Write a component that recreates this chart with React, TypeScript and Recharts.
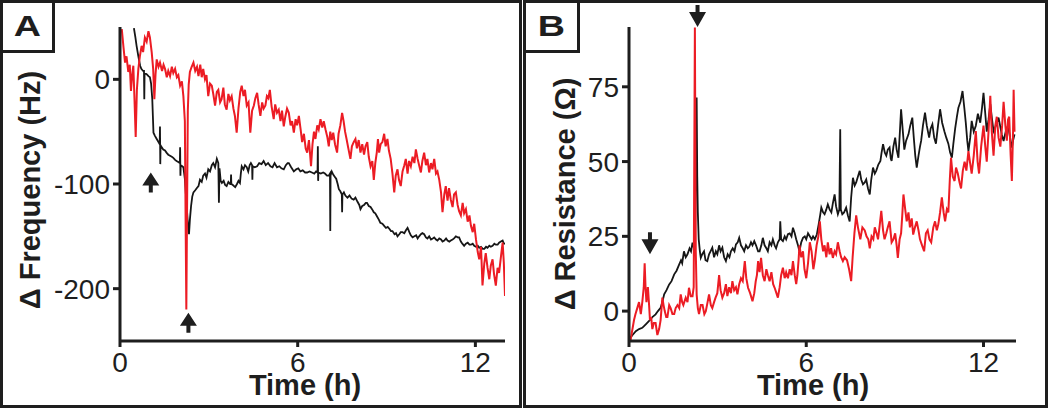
import { LineChart, Line, XAxis, YAxis, ReferenceDot, Label } from 'recharts';

// ---- panel A: frequency shift (Hz) vs time (h) ----
const redFreqTime = [
    0.06, 0.12, 0.17, 0.22, 0.28, 0.33, 0.37, 0.41, 0.45, 0.49, 0.53, 0.57, 0.62, 0.67, 0.73, 0.78, 0.84, 0.9, 0.96, 1.01,
    1.07, 1.12, 1.16, 1.2, 1.24, 1.3, 1.35, 1.42, 1.47, 1.52, 1.58, 1.63, 1.69, 1.75, 1.8, 1.86, 1.92, 1.97, 2.03, 2.09,
    2.14, 2.19, 2.22, 2.24, 2.26, 2.29, 2.32, 2.36, 2.42, 2.48, 2.54, 2.6, 2.65, 2.71, 2.76, 2.81, 2.87, 2.92, 2.98, 3.04,
    3.1, 3.15, 3.21, 3.27, 3.32, 3.38, 3.43, 3.49, 3.54, 3.6, 3.66, 3.71, 3.77, 3.83, 3.88, 3.94, 4.0, 4.06, 4.11, 4.17,
    4.22, 4.28, 4.34, 4.4, 4.46, 4.52, 4.57, 4.63, 4.68, 4.74, 4.8, 4.85, 4.91, 4.96, 5.01, 5.06, 5.12, 5.19, 5.24, 5.3,
    5.36, 5.42, 5.47, 5.53, 5.58, 5.64, 5.7, 5.76, 5.81, 5.87, 5.93, 5.98, 6.04, 6.1, 6.15, 6.21, 6.27, 6.32, 6.38, 6.42,
    6.45, 6.5, 6.55, 6.6, 6.66, 6.71, 6.77, 6.83, 6.88, 6.94, 7.0, 7.05, 7.1, 7.15, 7.2, 7.26, 7.33, 7.38, 7.44, 7.5,
    7.55, 7.6, 7.65, 7.71, 7.78, 7.83, 7.89, 7.95, 8.0, 8.06, 8.12, 8.18, 8.24, 8.29, 8.35, 8.4, 8.46, 8.52, 8.57, 8.62,
    8.67, 8.71, 8.75, 8.8, 8.86, 8.92, 8.97, 9.03, 9.08, 9.14, 9.2, 9.26, 9.31, 9.37, 9.42, 9.48, 9.54, 9.6, 9.65, 9.71,
    9.76, 9.82, 9.88, 9.94, 9.99, 10.05, 10.1, 10.16, 10.21, 10.27, 10.33, 10.38, 10.44, 10.5, 10.55, 10.61, 10.67, 10.72, 10.78, 10.84,
    10.89, 10.95, 11.0, 11.06, 11.11, 11.17, 11.23, 11.28, 11.34, 11.4, 11.45, 11.51, 11.57, 11.62, 11.68, 11.74, 11.8, 11.85, 11.91, 11.96,
    12.02, 12.08, 12.13, 12.19, 12.24, 12.3, 12.35, 12.41, 12.47, 12.52, 12.58, 12.63, 12.69, 12.75, 12.8, 12.86, 12.92, 12.96, 13.0,
];
const redFreq = [
    48, 30, 16, 22, 7, 14, -11, 4, 13, -20, -55, -10, 10, 22, 32, 26, 40, 36, 46, 40,
    26, 10, -19, 5, 19, 12, 16, 8, 14, 10, 2, 8, 3, 12, 6, 10, 2, 4, -6, -2,
    -16, -40, -150, -220, -140, -30, -5, 7, 12, 16, 8, 12, 3, 14, 2, 10, 0, 4, -16, -4,
    -6, -14, -25, -12, -10, -22, -19, -8, -24, -29, -14, -20, -16, -28, -35, -51, -28, -12, -6, -16,
    -10, -25, -22, -51, -30, -25, -18, -13, -24, -35, -22, -28, -25, -16, -18, -10, -26, -38, -24, -32,
    -29, -40, -30, -45, -36, -28, -32, -44, -40, -51, -38, -44, -35, -48, -60, -52, -66, -70, -58, -72,
    -83, -62, -50, -57, -44, -48, -38, -46, -40, -48, -55, -64, -50, -58, -51, -62, -70, -52, -44, -32,
    -40, -50, -57, -66, -76, -64, -60, -57, -66, -58, -70, -62, -72, -64, -60, -74, -83, -78, -96, -80,
    -70, -57, -70, -62, -60, -52, -64, -57, -68, -76, -90, -108, -92, -86, -96, -102, -88, -82, -76, -90,
    -78, -83, -74, -80, -67, -76, -82, -89, -78, -70, -82, -76, -89, -80, -86, -76, -90, -88, -96, -108,
    -127, -110, -102, -116, -104, -115, -122, -110, -108, -120, -126, -130, -118, -128, -124, -136, -130, -140, -146, -138,
    -153, -165, -172, -160, -197, -176, -166, -180, -191, -178, -172, -186, -197, -180, -185, -170, -156, -175, -207,
];

const blackFreqTime = [
    0.47, 0.52, 0.56, 0.62, 0.68, 0.72, 0.78, 0.81, 0.82, 0.83, 0.9, 0.96, 1.01, 1.05, 1.09, 1.11, 1.13, 1.18, 1.24, 1.3,
    1.34, 1.35, 1.36, 1.37, 1.41, 1.46, 1.52, 1.57, 1.63, 1.69, 1.75, 1.8, 1.86, 1.91, 1.97, 2.02, 2.03, 2.04, 2.05, 2.1,
    2.14, 2.19, 2.25, 2.3, 2.33, 2.36, 2.4, 2.44, 2.48, 2.54, 2.59, 2.65, 2.7, 2.76, 2.81, 2.87, 2.92, 2.98, 3.04, 3.1,
    3.15, 3.21, 3.27, 3.32, 3.34, 3.36, 3.4, 3.44, 3.5, 3.55, 3.6, 3.66, 3.72, 3.74, 3.75, 3.76, 3.81, 3.89, 3.95, 4.0,
    4.05, 4.08, 4.11, 4.17, 4.22, 4.28, 4.33, 4.38, 4.42, 4.46, 4.47, 4.48, 4.55, 4.63, 4.7, 4.78, 4.85, 4.92, 5.0, 5.08,
    5.15, 5.22, 5.3, 5.38, 5.45, 5.53, 5.6, 5.66, 5.7, 5.78, 5.87, 5.95, 6.02, 6.09, 6.17, 6.25, 6.32, 6.4, 6.48, 6.56,
    6.62, 6.67, 6.68, 6.69, 6.7, 6.78, 6.86, 6.92, 6.99, 7.05, 7.09, 7.1, 7.11, 7.15, 7.2, 7.25, 7.3, 7.35, 7.39, 7.44,
    7.49, 7.5, 7.51, 7.56, 7.61, 7.68, 7.75, 7.82, 7.89, 7.95, 8.02, 8.08, 8.12, 8.18, 8.24, 8.3, 8.34, 8.4, 8.46, 8.51,
    8.57, 8.62, 8.68, 8.74, 8.79, 8.86, 8.92, 8.98, 9.04, 9.1, 9.15, 9.2, 9.27, 9.32, 9.37, 9.43, 9.48, 9.54, 9.6, 9.66,
    9.71, 9.77, 9.82, 9.88, 9.94, 10.0, 10.05, 10.1, 10.16, 10.21, 10.27, 10.33, 10.38, 10.44, 10.5, 10.56, 10.61, 10.67, 10.72, 10.78,
    10.84, 10.89, 10.95, 11.01, 11.06, 11.12, 11.17, 11.23, 11.28, 11.34, 11.4, 11.45, 11.51, 11.56, 11.62, 11.68, 11.74, 11.8, 11.85, 11.91,
    11.96, 12.02, 12.08, 12.13, 12.19, 12.25, 12.3, 12.36, 12.41, 12.47, 12.52, 12.58, 12.64, 12.69, 12.75, 12.8, 12.86, 12.92, 12.96, 13.0,
];
const blackFreq = [
    49, 40, 32, 22, 13, 10, 8, 8, -19, 6, 5, 3, 2, -4, -19, -35, -51, -54, -57, -60,
    -62, -45, -81, -63, -65, -67, -68, -70, -72, -73, -74, -75, -77, -78, -79, -80, -65, -92, -82, -83,
    -84, -95, -121, -140, -148, -134, -121, -112, -108, -106, -104, -102, -96, -98, -92, -90, -94, -86, -88, -82,
    -80, -84, -76, -80, -118, -85, -97, -99, -97, -101, -102, -98, -100, -100, -91, -100, -101, -103, -100, -97,
    -99, -90, -83, -86, -82, -84, -88, -82, -80, -82, -96, -83, -84, -83, -80, -81, -78, -82, -80, -83,
    -84, -80, -84, -83, -85, -86, -82, -80, -80, -84, -88, -86, -85, -88, -87, -89, -89, -88, -89, -90,
    -88, -89, -64, -97, -89, -90, -89, -90, -92, -92, -90, -145, -92, -88, -91, -93, -95, -100, -105, -107,
    -110, -127, -110, -108, -111, -113, -111, -114, -115, -113, -117, -120, -124, -121, -120, -118, -118, -121, -122, -124,
    -127, -128, -131, -134, -137, -138, -140, -142, -141, -143, -145, -145, -148, -147, -150, -148, -146, -146, -147, -144,
    -142, -146, -149, -151, -150, -149, -152, -150, -148, -147, -148, -151, -152, -150, -153, -152, -151, -153, -154, -152,
    -153, -155, -154, -152, -154, -155, -154, -153, -152, -150, -151, -151, -155, -157, -159, -157, -156, -158, -158, -157,
    -159, -160, -159, -161, -160, -162, -162, -160, -161, -159, -160, -159, -157, -158, -158, -156, -155, -154, -157, -157,
];

// ---- panel B: resistance shift (ohm) vs time (h) ----
const redResTime = [
    0.05, 0.1, 0.17, 0.22, 0.28, 0.34, 0.4, 0.45, 0.5, 0.53, 0.56, 0.59, 0.64, 0.68, 0.71, 0.75, 0.79, 0.84, 0.9, 0.96,
    1.02, 1.07, 1.13, 1.17, 1.21, 1.26, 1.3, 1.36, 1.41, 1.47, 1.53, 1.58, 1.64, 1.7, 1.75, 1.8, 1.84, 1.92, 1.98, 2.03,
    2.09, 2.15, 2.19, 2.23, 2.26, 2.29, 2.33, 2.37, 2.43, 2.49, 2.55, 2.6, 2.66, 2.71, 2.77, 2.82, 2.88, 2.93, 2.99, 3.05,
    3.1, 3.16, 3.22, 3.28, 3.33, 3.39, 3.45, 3.5, 3.56, 3.62, 3.67, 3.73, 3.79, 3.85, 3.92, 3.97, 4.03, 4.1, 4.18, 4.24,
    4.29, 4.33, 4.37, 4.42, 4.47, 4.53, 4.59, 4.65, 4.7, 4.76, 4.82, 4.88, 4.93, 4.99, 5.04, 5.1, 5.15, 5.21, 5.27, 5.32,
    5.38, 5.44, 5.5, 5.55, 5.61, 5.66, 5.7, 5.74, 5.77, 5.83, 5.89, 5.94, 6.0, 6.06, 6.12, 6.18, 6.24, 6.29, 6.35, 6.41,
    6.46, 6.51, 6.57, 6.62, 6.68, 6.73, 6.79, 6.84, 6.9, 6.96, 7.01, 7.07, 7.13, 7.18, 7.24, 7.3, 7.38, 7.45, 7.52, 7.57,
    7.63, 7.69, 7.75, 7.83, 7.9, 7.98, 8.04, 8.1, 8.15, 8.21, 8.27, 8.32, 8.38, 8.43, 8.49, 8.54, 8.6, 8.65, 8.71, 8.76,
    8.82, 8.86, 8.89, 8.95, 9.01, 9.06, 9.1, 9.16, 9.21, 9.25, 9.29, 9.35, 9.4, 9.46, 9.51, 9.57, 9.62, 9.68, 9.74, 9.8,
    9.85, 9.92, 9.99, 10.05, 10.11, 10.17, 10.23, 10.3, 10.36, 10.42, 10.47, 10.53, 10.59, 10.65, 10.7, 10.76, 10.81, 10.86, 10.9, 10.96,
    11.02, 11.07, 11.13, 11.19, 11.24, 11.3, 11.36, 11.42, 11.49, 11.54, 11.6, 11.67, 11.74, 11.8, 11.85, 11.92, 12.0, 12.06, 12.11, 12.17,
    12.23, 12.28, 12.34, 12.4, 12.45, 12.51, 12.57, 12.63, 12.68, 12.74, 12.79, 12.83, 12.87, 12.92, 12.96, 13.0, 13.02, 13.05,
];
const redRes = [
    -10, -7, -3, -1, 1, 3, -1, 3, 8, 16, 8, 3, 8, 2, -3, -2, -6, -4, -4, -8,
    -6, -3, 4.5, 2, 0, -2, -2, 2, 1, -1, -1, 1, 2, 1, 5.6, 3, 2, 4.5, 3, 7.8,
    5, 5, 8, 94.8, 20, 5.6, 1, -1, 2, 2, -1, 0, 3, 5.6, 2, 1, 3, 4.5, 6, 12,
    7, 4.5, 6, 9, 5, 8, 6, 10, 7, 8, 5.6, 9, 11, 10, 16.7, 11, 7.8, 6, 3.3, 6,
    10, 12, 16.7, 13, 17.8, 12, 10, 14, 12, 10, 13, 9, 7.8, 6, 4.5, 8, 12, 14.5, 11, 13,
    11, 14, 12, 16.7, 12, 9, 12, 17, 22, 18, 20, 14, 11, 16, 23, 20, 14, 17, 22, 25,
    30, 24, 20, 22, 18, 23, 19, 21, 17.8, 20, 19, 23, 20, 18, 16.7, 18, 17, 14, 10, 18,
    26, 32, 28, 24, 28, 27, 25, 24, 21, 25, 24, 28, 26, 24, 29, 33.5, 27, 24, 26, 28,
    30, 26, 23, 24, 26, 22, 17.8, 24, 26, 32, 39, 34, 30, 33, 28, 31, 25.6, 28, 30, 27,
    24, 22, 20, 26, 27, 24, 23, 28, 30, 27, 29, 33, 38, 33, 30, 34, 33, 44, 51.3, 45,
    43.5, 48, 46, 43, 41, 47, 50, 47, 53.5, 50, 46, 52, 60.2, 50, 46, 55, 62, 55, 50, 60,
    72, 60, 52, 62, 65, 58, 55, 62, 70, 62, 57, 64, 65, 52, 43.5, 60, 74, 60,
];

const blackResTime = [
    0.05, 0.12, 0.23, 0.34, 0.45, 0.56, 0.68, 0.79, 0.9, 0.98, 1.07, 1.13, 1.19, 1.27, 1.36, 1.44, 1.53, 1.61, 1.7, 1.76,
    1.8, 1.86, 1.92, 1.98, 2.05, 2.1, 2.15, 2.2, 2.23, 2.27, 2.29, 2.31, 2.33, 2.36, 2.4, 2.43, 2.48, 2.54, 2.59, 2.65,
    2.71, 2.76, 2.82, 2.88, 2.94, 2.99, 3.05, 3.1, 3.16, 3.22, 3.28, 3.34, 3.4, 3.45, 3.51, 3.57, 3.62, 3.68, 3.73, 3.79,
    3.85, 3.9, 3.96, 4.02, 4.07, 4.13, 4.18, 4.24, 4.3, 4.37, 4.42, 4.48, 4.53, 4.59, 4.65, 4.7, 4.76, 4.82, 4.87, 4.93,
    4.98, 5.04, 5.1, 5.12, 5.15, 5.21, 5.27, 5.32, 5.38, 5.44, 5.5, 5.55, 5.61, 5.66, 5.72, 5.77, 5.83, 5.89, 5.95, 6.0,
    6.06, 6.12, 6.18, 6.23, 6.29, 6.36, 6.42, 6.47, 6.51, 6.57, 6.62, 6.68, 6.73, 6.79, 6.85, 6.9, 6.96, 7.01, 7.07, 7.12,
    7.15, 7.17, 7.22, 7.28, 7.35, 7.41, 7.47, 7.52, 7.58, 7.64, 7.69, 7.75, 7.81, 7.86, 7.92, 7.98, 8.03, 8.09, 8.15, 8.2,
    8.26, 8.32, 8.37, 8.44, 8.51, 8.55, 8.6, 8.66, 8.71, 8.76, 8.82, 8.86, 8.89, 8.95, 9.01, 9.06, 9.12, 9.17, 9.21, 9.27,
    9.32, 9.38, 9.46, 9.52, 9.59, 9.64, 9.69, 9.74, 9.8, 9.85, 9.89, 9.95, 10.02, 10.08, 10.16, 10.21, 10.27, 10.33, 10.39, 10.46,
    10.53, 10.6, 10.68, 10.74, 10.81, 10.87, 10.93, 10.98, 11.04, 11.1, 11.15, 11.22, 11.29, 11.35, 11.4, 11.45, 11.49, 11.55, 11.6, 11.67,
    11.74, 11.81, 11.89, 11.95, 12.0, 12.06, 12.11, 12.17, 12.23, 12.29, 12.34, 12.42, 12.51, 12.58, 12.62, 12.68, 12.75, 12.83, 12.9, 12.96,
    13.0, 13.05,
];
const blackRes = [
    -8.9, -8, -6.7, -6, -5.6, -4.5, -3.3, -2, -1.1, 0, 1.1, 3, 5.6, 7, 8.9, 10, 12.3, 13.5, 15.6, 17,
    16, 20, 18, 19, 21, 20, 22.9, 21, 21, 50, 71.4, 45, 33, 24, 20, 17.8, 19, 20, 17, 16.7,
    19, 20, 21.2, 18, 20, 19, 22, 20, 21.2, 18, 16.7, 19, 18, 20, 21, 20, 22.3, 23, 24.5, 22,
    21, 20, 22, 21, 21.5, 23, 22, 23.4, 22, 20, 20, 22, 24.5, 22, 21, 20, 23, 22, 24, 22,
    21, 23, 24, 30, 24, 23.4, 25, 24, 25.7, 26, 25, 27.9, 26, 24, 22, 20, 23, 24.5, 25, 24,
    26, 25, 24, 25, 24, 25.7, 29, 32, 34.6, 33, 32.4, 34, 35.7, 34, 33, 36, 39, 35, 32.4, 34,
    60.8, 34, 32.4, 33, 34.6, 32, 30, 38, 44.6, 42, 43, 45, 46.9, 44, 42.4, 43, 44, 41, 39, 44,
    48, 46, 47, 49, 50.2, 53, 55.8, 53, 52, 54, 54.7, 51, 50.2, 55, 58, 54, 51.3, 60, 67.5, 60,
    54, 57, 59.1, 62, 64.7, 58, 52, 48, 52, 55, 57, 62, 66.4, 62, 58, 61, 62.5, 58, 56, 62,
    67.5, 63, 60, 58, 56, 53, 51.3, 56, 61, 65, 68, 70, 73.6, 68, 63, 57, 53.5, 58, 63.6, 60,
    62, 66, 63, 68, 73, 66, 60, 64, 69.2, 64, 60.2, 62, 64.7, 61, 59, 56.9, 60, 62, 58, 54.7,
    57, 59.1,
];

// ---- axes and annotations ----
const timeTicks = [0, 6, 12];
const freqTicks = [-200, -100, 0];
const resTicks = [0, 25, 50, 75];
const freqArrowTimes = [1.04, 2.31];
const freqArrowValues = [-89, -223];
const resArrowTimes = [0.71, 2.32];
const resArrowValues = [19, 95];

const RED = '#ec1c24';
const BLACK = '#161616';
const INK = '#1e1e1e';
const FONT = '"Liberation Sans", Arial, Helvetica, sans-serif';

const zip = (ts: number[], vs: number[]) => ts.map((t, i) => ({ t, v: vs[i] }));

const redFreqData = zip(redFreqTime, redFreq);
const blackFreqData = zip(blackFreqTime, blackFreq);
const redResData = zip(redResTime, redRes);
const blackResData = zip(blackResTime, blackRes);

function UpArrow(props: any) {
    const { cx, cy } = props;
    const d = `M${cx} ${cy} L${cx + 8.5} ${cy + 13} L${cx + 2} ${cy + 13} L${cx + 2} ${cy + 20} L${cx - 2} ${cy + 20} L${cx - 2} ${cy + 13} L${cx - 8.5} ${cy + 13} Z`;
    return <path d={d} fill={INK} />;
}

function DownArrow(props: any) {
    const { cx, cy } = props;
    const d = `M${cx} ${cy} L${cx + 8.5} ${cy - 15} L${cx + 2} ${cy - 15} L${cx + 2} ${cy - 22} L${cx - 2} ${cy - 22} L${cx - 2} ${cy - 15} L${cx - 8.5} ${cy - 15} Z`;
    return <path d={d} fill={INK} />;
}

const tickStyle = { fontSize: 28, fill: INK, fontFamily: FONT };
const axisLineStyle = { stroke: INK, strokeWidth: 3 };
const tickLineStyle = { stroke: INK, strokeWidth: 3 };

function xTitle(cx: number) {
    return (
        <Label
            content={() => (
                <text x={cx} y={392} textAnchor="middle" fontSize={29} fontWeight="bold" fontFamily={FONT} fill={INK}>
                    Time (h)
                </text>
            )}
        />
    );
}

function yTitle(text: string, bx: number, cy: number) {
    return (
        <Label
            content={() => (
                <text
                    x={bx}
                    y={cy}
                    transform={`rotate(-90 ${bx} ${cy})`}
                    textAnchor="middle"
                    fontSize={29}
                    fontWeight="bold"
                    fontFamily={FONT}
                    fill={INK}
                >
                    {text}
                </text>
            )}
        />
    );
}

function LetterBox({ letter, left, width }: { letter: string; left: number; width: number }) {
    return (
        <div
            style={{
                position: 'absolute',
                left,
                top: 0,
                width: width - 6,
                height: 47,
                border: `3px solid ${INK}`,
                background: '#fff',
                display: 'flex',
                alignItems: 'center',
                justifyContent: 'center',
                fontFamily: FONT,
                fontWeight: 'bold',
                fontSize: 29,
                color: INK,
            }}
        >
            <span style={{ display: 'inline-block', transform: 'scaleX(1.3)' }}>{letter}</span>
        </div>
    );
}

const panelBox = (left: number, width: number): React.CSSProperties => ({
    position: 'absolute',
    left,
    top: 0,
    width: width - 6,
    height: 402,
    border: `3px solid ${INK}`,
    background: '#fff',
});

export default function App() {
    return (
        <div style={{ position: 'absolute', left: 0, top: 0, width: 1050, height: 409, background: '#fff', fontFamily: FONT }}>
            <div style={panelBox(0, 522)}>
                <LineChart width={516} height={402} margin={{ top: 24, right: 14, bottom: 0, left: 0 }}>
                    <XAxis
                        type="number"
                        dataKey="t"
                        domain={[0, 13]}
                        ticks={timeTicks}
                        allowDataOverflow
                        height={64}
                        tick={tickStyle}
                        tickSize={6}
                        tickMargin={5}
                        axisLine={axisLineStyle}
                        tickLine={tickLineStyle}
                    >
                        {xTitle(302)}
                    </XAxis>
                    <YAxis
                        type="number"
                        domain={[-250, 50]}
                        ticks={freqTicks}
                        allowDataOverflow
                        width={117}
                        tick={tickStyle}
                        tickSize={7}
                        tickMargin={3}
                        axisLine={axisLineStyle}
                        tickLine={tickLineStyle}
                    >
                        {yTitle('Δ Frequency (Hz)', 37, 187)}
                    </YAxis>
                    <Line data={blackFreqData} dataKey="v" type="linear" stroke={BLACK} strokeWidth={1.8} dot={false} isAnimationActive={false} />
                    <Line data={redFreqData} dataKey="v" type="linear" stroke={RED} strokeWidth={2} dot={false} isAnimationActive={false} />
                    {freqArrowTimes.map((t, i) => (
                        <ReferenceDot key={i} x={t} y={freqArrowValues[i]} r={1} ifOverflow="visible" shape={UpArrow} />
                    ))}
                </LineChart>
            </div>
            <div style={panelBox(523, 525)}>
                <LineChart width={519} height={402} margin={{ top: 24, right: 29, bottom: 0, left: 0 }}>
                    <XAxis
                        type="number"
                        dataKey="t"
                        domain={[0, 13.1]}
                        ticks={timeTicks}
                        allowDataOverflow
                        height={64}
                        tick={tickStyle}
                        tickSize={6}
                        tickMargin={5}
                        axisLine={axisLineStyle}
                        tickLine={tickLineStyle}
                    >
                        {xTitle(287)}
                    </XAxis>
                    <YAxis
                        type="number"
                        domain={[-10, 95]}
                        ticks={resTicks}
                        allowDataOverflow
                        width={103}
                        tick={tickStyle}
                        tickSize={7}
                        tickMargin={3}
                        axisLine={axisLineStyle}
                        tickLine={tickLineStyle}
                    >
                        {yTitle('Δ Resistance (Ω)', 49, 191)}
                    </YAxis>
                    <Line data={blackResData} dataKey="v" type="linear" stroke={BLACK} strokeWidth={1.8} dot={false} isAnimationActive={false} />
                    <Line data={redResData} dataKey="v" type="linear" stroke={RED} strokeWidth={2} dot={false} isAnimationActive={false} />
                    {resArrowTimes.map((t, i) => (
                        <ReferenceDot key={i} x={t} y={resArrowValues[i]} r={1} ifOverflow="visible" shape={DownArrow} />
                    ))}
                </LineChart>
            </div>
            <LetterBox letter="A" left={0} width={55} />
            <LetterBox letter="B" left={523} width={57} />
        </div>
    );
}
